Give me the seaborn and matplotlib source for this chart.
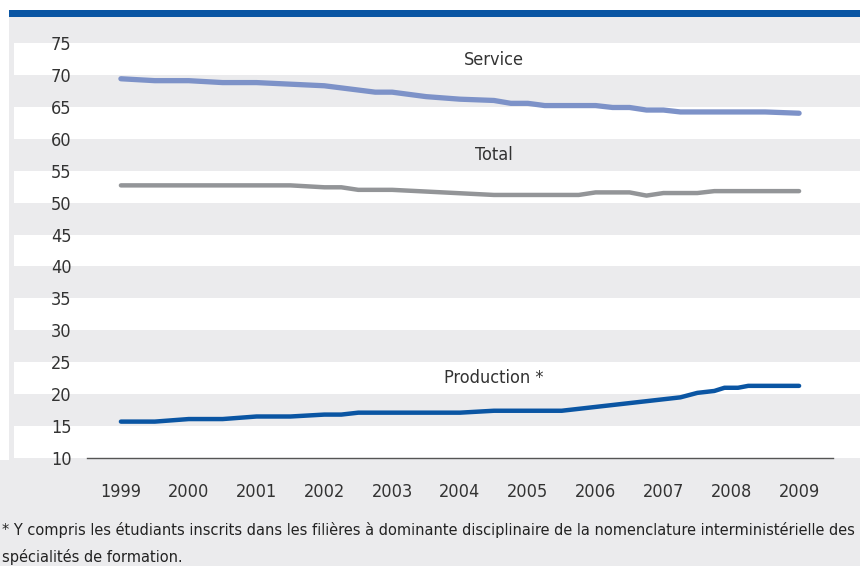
import numpy as np
import pandas as pd
import matplotlib.pyplot as plt
import seaborn as sns
from matplotlib.patches import Rectangle
from matplotlib.transforms import blended_transform_factory

# Data (share in %, by year; intermediate points as fractional years)
service_years = [1999.0, 1999.5, 2000.0, 2000.5, 2001.0, 2002.0, 2002.75, 2003.0, 2003.5,
                 2004.0, 2004.5, 2004.75, 2005.0, 2005.25, 2006.0, 2006.25, 2006.5,
                 2006.75, 2007.0, 2007.25, 2008.5, 2009.0]
service_values = [69.4, 69.1, 69.1, 68.8, 68.8, 68.3, 67.3, 67.3, 66.6,
                  66.2, 66.0, 65.55, 65.55, 65.2, 65.2, 64.9, 64.9,
                  64.5, 64.5, 64.2, 64.2, 64.0]

total_years = [1999.0, 2001.5, 2002.0, 2002.25, 2002.5, 2003.0, 2004.5, 2005.75, 2006.0,
               2006.5, 2006.75, 2007.0, 2007.5, 2007.75, 2009.0]
total_values = [52.7, 52.7, 52.4, 52.4, 52.0, 52.0, 51.2, 51.2, 51.6,
                51.6, 51.1, 51.5, 51.5, 51.8, 51.8]

production_years = [1999.0, 1999.5, 2000.0, 2000.5, 2001.0, 2001.5, 2002.0, 2002.25, 2002.5,
                    2004.0, 2004.5, 2005.5, 2007.25, 2007.5, 2007.75, 2007.9, 2008.1,
                    2008.25, 2009.0]
production_values = [15.7, 15.7, 16.1, 16.1, 16.5, 16.5, 16.8, 16.8, 17.1,
                     17.1, 17.4, 17.4, 19.5, 20.2, 20.5, 21.0, 21.0,
                     21.3, 21.3]

year_labels = [str(y) for y in range(1999, 2010)]
series_names = ["Service", "Total", "Production *"]
label_pos = {"Service": (2004.5, 72.3), "Total": (2004.5, 57.5), "Production *": (2004.5, 22.6)}
footnote = ("* Y compris les étudiants inscrits dans les filières à dominante disciplinaire "
            "de la nomenclature interministérielle des")
footnote2 = "spécialités de formation."

colors = {"Service": "#7d92c8", "Total": "#939598", "Production *": "#0a55a3"}
widths = {"Service": 3.8, "Total": 3.2, "Production *": 3.2}
bg = "#ebebed"
txt = "#333333"

df = pd.concat([
    pd.DataFrame({"year": service_years, "value": service_values, "serie": "Service"}),
    pd.DataFrame({"year": total_years, "value": total_values, "serie": "Total"}),
    pd.DataFrame({"year": production_years, "value": production_values, "serie": "Production *"}),
])

sns.set_style("white")
plt.rcParams["font.family"] = ["DejaVu Sans"]
plt.rcParams["font.stretch"] = "condensed"

fig = plt.figure(figsize=(8.6, 5.66), dpi=100, facecolor=bg)
ax = fig.add_axes([87 / 860, 108 / 566, 746 / 860, 415 / 566])
ax.set_facecolor("none")

# top banner and left white strip
fig.patches.append(Rectangle((0, 1 - 10 / 566), 1, 10 / 566, transform=fig.transFigure,
                             facecolor="white", edgecolor="none", zorder=0))
fig.patches.append(Rectangle((0, 1 - 17 / 566), 1, 7 / 566, transform=fig.transFigure,
                             facecolor="#0a55a3", edgecolor="none", zorder=0))
fig.patches.append(Rectangle((0, 106 / 566), 9 / 860, 1, transform=fig.transFigure,
                             facecolor="white", edgecolor="none", zorder=0))

# alternating white bands across the full width
trans = blended_transform_factory(fig.transFigure, ax.transData)
for v in range(10, 75, 10):
    ax.add_patch(Rectangle((14 / 860, v), 1, 5, transform=trans, facecolor="white",
                           edgecolor="none", zorder=0, clip_on=False))

for name in series_names:
    sns.lineplot(data=df[df["serie"] == name], x="year", y="value", ax=ax,
                 color=colors[name], linewidth=widths[name], legend=False,
                 sort=False, estimator=None)
    lx, ly = label_pos[name]
    ax.text(lx, ly, name, ha="center", va="center", fontsize=13, color=txt)

ax.set_xlim(1998.5, 2009.5)
ax.set_ylim(10, 75)
ax.set_xticks(np.arange(1998.5, 2010, 1))
ax.set_xticklabels([])
ax.set_xticks(np.arange(1999, 2010, 1), minor=True)
ax.set_xticklabels(year_labels, minor=True, fontsize=13, color=txt)
ax.tick_params(axis="x", which="major", length=8, width=1, color="#555555", direction="out")
ax.tick_params(axis="x", which="minor", length=0, pad=18)
ax.set_yticks(range(10, 80, 5))
ax.set_yticklabels([str(v) for v in range(10, 80, 5)], fontsize=13, color=txt)
ax.tick_params(axis="y", length=0, pad=11)
ax.set_xlabel("")
ax.set_ylabel("")
for s in ["top", "right", "left"]:
    ax.spines[s].set_visible(False)
ax.spines["bottom"].set_color("#555555")
ax.spines["bottom"].set_linewidth(1)

# footnote sized to span the figure width
t1 = fig.text(2 / 860, 1 - 530 / 566, footnote, fontsize=12.5, color="#222222",
              va="center", ha="left")
fig.canvas.draw()
w = t1.get_window_extent().width
fs = 12.5 * min(1.0, 855 / w)
t1.set_fontsize(fs)
fig.text(2 / 860, 1 - 557 / 566, footnote2, fontsize=fs, color="#222222",
         va="center", ha="left")

fig.savefig("out.png", dpi=100, facecolor=bg)
